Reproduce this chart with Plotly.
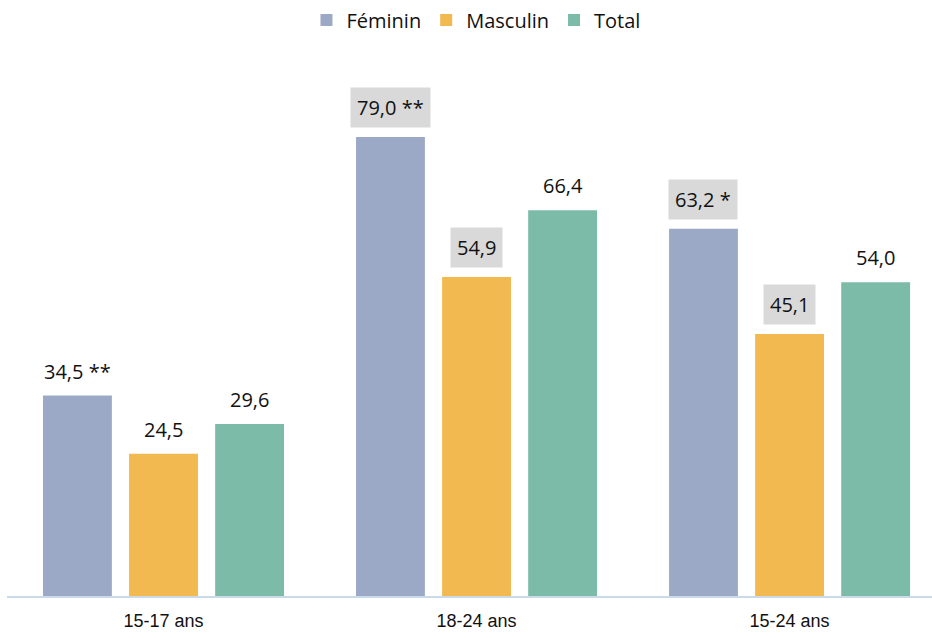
import plotly.graph_objects as go

categories = ["15-17 ans", "18-24 ans", "15-24 ans"]
series_names = ["Féminin", "Masculin", "Total"]
feminin = [34.5, 79.0, 63.2]
masculin = [24.5, 54.9, 45.1]
total = [29.6, 66.4, 54.0]
feminin_labels = ["34,5 **", "79,0 **", "63,2 *"]
masculin_labels = ["24,5", "54,9", "45,1"]
total_labels = ["29,6", "66,4", "54,0"]
feminin_boxed = [False, True, True]
masculin_boxed = [False, True, True]
total_boxed = [False, False, False]
colors = ["#9BA9C7", "#F2B950", "#7DBBA9"]

FONT = "Open Sans, Liberation Sans, sans-serif"
TICKFONT = "Liberation Sans, Open Sans, sans-serif"
bargap = 0.175
bargroupgap = 0.2

fig = go.Figure()
all_vals = [feminin, masculin, total]
all_labels = [feminin_labels, masculin_labels, total_labels]
all_boxed = [feminin_boxed, masculin_boxed, total_boxed]
xs = list(range(len(categories)))
for name, vals, col in zip(series_names, all_vals, colors):
    fig.add_trace(go.Bar(x=xs, y=vals, name=name, marker_color=col,
                         marker_line_width=0, hoverinfo="skip"))

slot = (1 - bargap) / 3
annotations = []
for s, (vals, labs, boxed) in enumerate(zip(all_vals, all_labels, all_boxed)):
    for i, (v, lab, b) in enumerate(zip(vals, labs, boxed)):
        annotations.append(dict(
            x=i + (s - 1) * slot, y=v, xref="x", yref="y",
            text=lab, showarrow=False, yanchor="bottom",
            yshift=9 if b else 4,
            font=dict(family=FONT, size=20, color="#111"),
            bgcolor="#D9D9D9" if b else "rgba(0,0,0,0)",
            borderpad=6,
        ))

fig.update_layout(
    width=932, height=638,
    margin=dict(l=7, r=0, t=60, b=42),
    paper_bgcolor="white", plot_bgcolor="white",
    barmode="group", bargap=bargap, bargroupgap=bargroupgap,
    annotations=annotations,
    showlegend=True,
    legend=dict(orientation="h", x=0.507, xanchor="center",
                yref="container", y=1 - 20 / 638, yanchor="middle",
                font=dict(family=FONT, size=20, color="#111"),
                itemwidth=30, traceorder="normal"),
    xaxis=dict(tickmode="array", tickvals=xs, ticktext=categories,
               range=[-0.5, 2.455], showline=True, linecolor="#CADAEB",
               linewidth=1.5, showgrid=False, zeroline=False,
               ticks="", ticklabelstandoff=8,
               tickfont=dict(family=TICKFONT, size=18, color="#111")),
    yaxis=dict(range=[0, 92.25], visible=False, showgrid=False,
               zeroline=False),
)

fig.write_html("out.html", config={"displayModeBar": False},
               post_script="document.body.style.margin='0';document.body.style.overflow='hidden';")
